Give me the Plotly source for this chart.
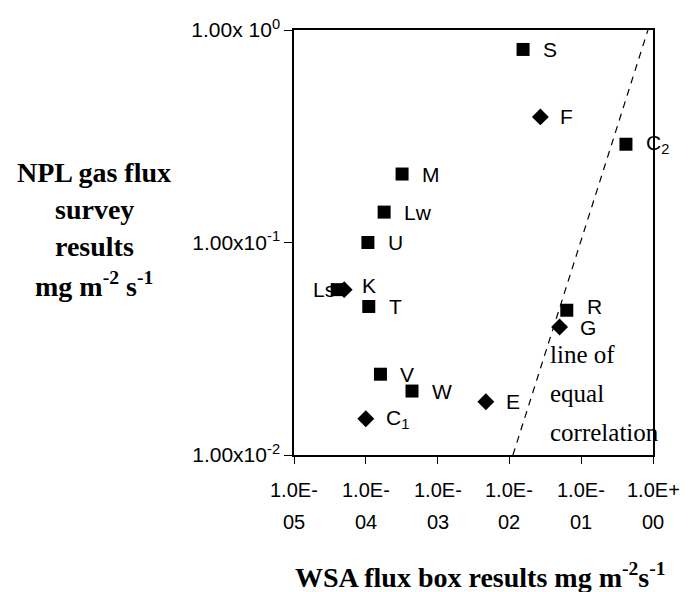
import math
import plotly.graph_objects as go

# WSA flux box (x) vs NPL survey (y), mg m-2 s-1
square_sites = ["S", "C<sub>2</sub>", "M", "Lw", "U", "Ls", "T", "R", "V", "W"]
square_wsa = [0.0155, 0.42, 3.2e-4, 1.8e-4, 1.07e-4, 4.0e-5, 1.1e-4, 0.063, 1.6e-4, 4.4e-4]
square_npl = [0.81, 0.29, 0.21, 0.139, 0.1, 0.06, 0.05, 0.048, 0.024, 0.020]

diamond_sites = ["F", "K", "G", "E", "C<sub>1</sub>"]
diamond_wsa = [0.027, 5.0e-5, 0.050, 4.7e-3, 1.0e-4]
diamond_npl = [0.39, 0.06, 0.040, 0.0178, 0.0148]

equal_line_x = [0.0112, 0.85]
equal_line_y = [0.01, 1.0]

x_tickvals = [1e-5, 1e-4, 1e-3, 1e-2, 1e-1, 1e0]
x_tick_line1 = ["1.0E-", "1.0E-", "1.0E-", "1.0E-", "1.0E-", "1.0E+"]
x_tick_line2 = ["05", "04", "03", "02", "01", "00"]
y_tickvals = [1e0, 1e-1, 1e-2]
y_ticktext = ["1.00x 10<sup>0</sup>", "1.00x10<sup>-1</sup>", "1.00x10<sup>-2</sup>"]

y_title_lines = ["NPL gas flux", "survey", "results", "mg m<sup>-2</sup> s<sup>-1</sup>"]
x_title = "WSA flux box results mg m<sup>-2</sup>s<sup>-1</sup>"
line_label_lines = ["line of", "equal", "correlation"]

SANS = "Arial, Liberation Sans, sans-serif"
SERIF = "Times New Roman, Liberation Serif, serif"

W, H = 699, 592
ML, MR, MT, MB = 294, 46, 30, 137
PW, PH = W - ML - MR, H - MT - MB


def px_to_paper(px, py):
    """Page pixel position -> plot-area paper fraction."""
    return (px - ML) / PW, (H - MB - py) / PH


fig = go.Figure()

fig.add_trace(go.Scatter(
    x=equal_line_x, y=equal_line_y, mode="lines",
    line=dict(color="black", width=1.2, dash="7px,6px"),
    showlegend=False, hoverinfo="skip"))

fig.add_trace(go.Scatter(
    x=square_wsa, y=square_npl, mode="markers",
    marker=dict(symbol="square", size=13, color="black"),
    showlegend=False))

fig.add_trace(go.Scatter(
    x=diamond_wsa, y=diamond_npl, mode="markers",
    marker=dict(symbol="diamond", size=13, color="black"),
    showlegend=False))

annotations = []

# point labels (log axes take log10 positions for annotations)
label_adjust = {"Ls": (0, 0, "right"), "K": (16, 4, "left"), "R": (18, 4, "left")}
for names, xs, ys in ((square_sites, square_wsa, square_npl),
                      (diamond_sites, diamond_wsa, diamond_npl)):
    for n, xv, yv in zip(names, xs, ys):
        dx, dy, anchor = label_adjust.get(n, (18, 0, "left"))
        annotations.append(dict(
            x=math.log10(xv), y=math.log10(yv), xref="x", yref="y", text=n,
            showarrow=False, xanchor=anchor, yanchor="middle",
            xshift=dx, yshift=dy,
            font=dict(family=SANS, size=21, color="black")))

# two-line x tick labels, placed under each decade
for tv, l1, l2 in zip(x_tickvals, x_tick_line1, x_tick_line2):
    for txt, shift in ((l1, -35), (l2, -67)):
        annotations.append(dict(
            x=math.log10(tv), y=0, xref="x", yref="paper", text=txt,
            showarrow=False, xanchor="center", yanchor="middle", yshift=shift,
            font=dict(family=SANS, size=20, color="black")))

# label for the dashed line
for txt, yp in zip(line_label_lines, (354, 393, 432)):
    ax, ay = px_to_paper(548, yp)
    annotations.append(dict(
        x=ax, y=ay, xref="paper", yref="paper", text=txt,
        showarrow=False, xanchor="left", yanchor="middle",
        font=dict(family=SERIF, size=25, color="black")))

# axis titles
for txt, yp in zip(y_title_lines, (172, 209, 246, 284)):
    tx, ty = px_to_paper(94, yp)
    annotations.append(dict(
        x=tx, y=ty, xref="paper", yref="paper", text=f"<b>{txt}</b>",
        showarrow=False, xanchor="center", yanchor="middle",
        font=dict(family=SERIF, size=28, color="black")))
tx, ty = px_to_paper(480, 575)
annotations.append(dict(
    x=tx, y=ty, xref="paper", yref="paper", text=f"<b>{x_title}</b>",
    showarrow=False, xanchor="center", yanchor="middle",
    font=dict(family=SERIF, size=28, color="black")))

fig.update_layout(
    width=W, height=H,
    margin=dict(l=ML, r=MR, t=MT, b=MB, autoexpand=False),
    paper_bgcolor="white", plot_bgcolor="white",
    xaxis=dict(type="log", range=[-5, 0], tickvals=x_tickvals, showticklabels=False,
               ticks="outside", ticklen=7, tickcolor="black", showgrid=False,
               zeroline=False, showline=True, linecolor="black", linewidth=1.5,
               mirror=True),
    yaxis=dict(type="log", range=[-2, 0], tickvals=y_tickvals, ticktext=y_ticktext,
               ticks="outside", ticklen=8, tickcolor="black", showgrid=False,
               zeroline=False, showline=True, linecolor="black", linewidth=1.5,
               mirror=True, tickfont=dict(family=SANS, size=21, color="black")),
    annotations=annotations,
)

fig.write_html("out.html")
